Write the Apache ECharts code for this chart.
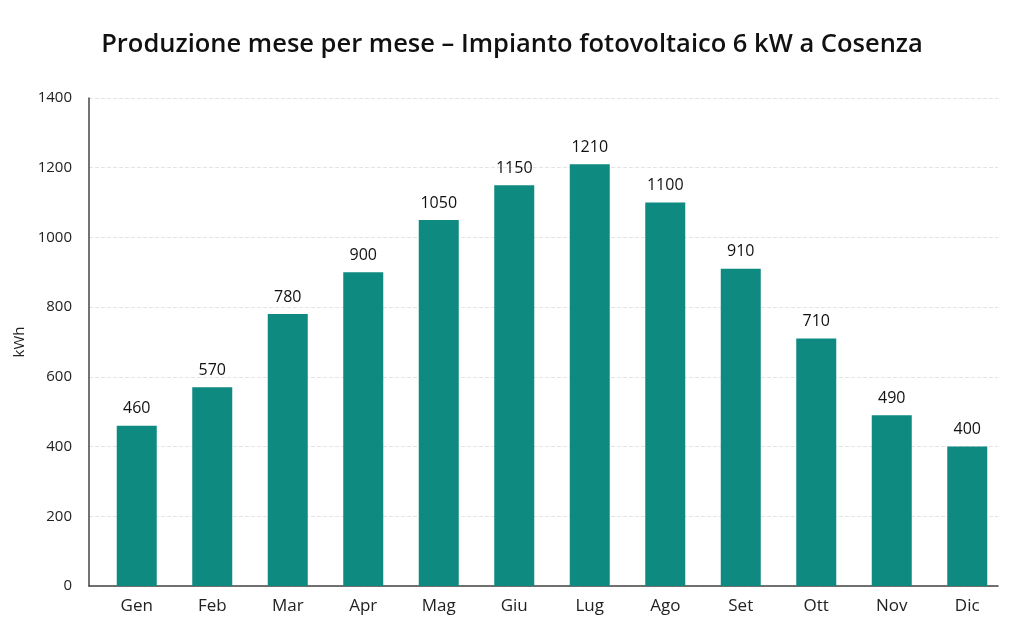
<!DOCTYPE html>
<html><head><meta charset="utf-8">
<script src="https://cdn.jsdelivr.net/npm/echarts@6/dist/echarts.min.js"></script>
<style>html,body{margin:0;padding:0;background:#fff}#c{width:1024px;height:640px}</style>
</head><body><div id="c"></div>
<script>
const months = ['Gen','Feb','Mar','Apr','Mag','Giu','Lug','Ago','Set','Ott','Nov','Dic'];
const production = [460,570,780,900,1050,1150,1210,1100,910,710,490,400];
const titleText = 'Produzione mese per mese – Impianto fotovoltaico 6 kW a Cosenza';
const yName = 'kWh';
const chart = echarts.init(document.getElementById('c'));
chart.setOption({
  animation:false,
  textStyle:{fontFamily:'Open Sans'},
  title:{text:titleText,left:'center',top:27,textStyle:{fontFamily:'Open Sans',fontSize:25.5,fontWeight:600,color:'#111'}},
  grid:[
    {left:89,right:26,top:98,bottom:54},
    {left:99,right:19,top:98,bottom:54}
  ],
  xAxis:[
    {type:'category',gridIndex:0,data:months,axisTick:{show:false},axisLabel:{show:false},
      axisLine:{lineStyle:{color:'#444',width:1.5}}},
    {type:'category',gridIndex:1,data:months,axisTick:{show:false},axisLine:{show:false},
      axisLabel:{fontSize:17,color:'#222',margin:12}}
  ],
  yAxis:[
    {type:'value',gridIndex:0,min:0,max:1400,interval:200,name:yName,nameLocation:'middle',nameGap:60,
      nameTextStyle:{fontSize:15,color:'#222'},
      axisLine:{show:true,lineStyle:{color:'#444',width:1.5}},
      axisLabel:{fontSize:15,color:'#222',margin:17,formatter:v=>String(v)},
      splitLine:{lineStyle:{type:'dashed',color:'#e4e4e4'}}},
    {type:'value',gridIndex:1,min:0,max:1400,interval:200,show:false,splitLine:{show:false}}
  ],
  series:[{type:'bar',xAxisIndex:1,yAxisIndex:1,data:production,barWidth:40,itemStyle:{color:'#0e8a80'},
    label:{show:true,position:'top',distance:9,fontSize:16,color:'#111'}}]
});
</script></body></html>
